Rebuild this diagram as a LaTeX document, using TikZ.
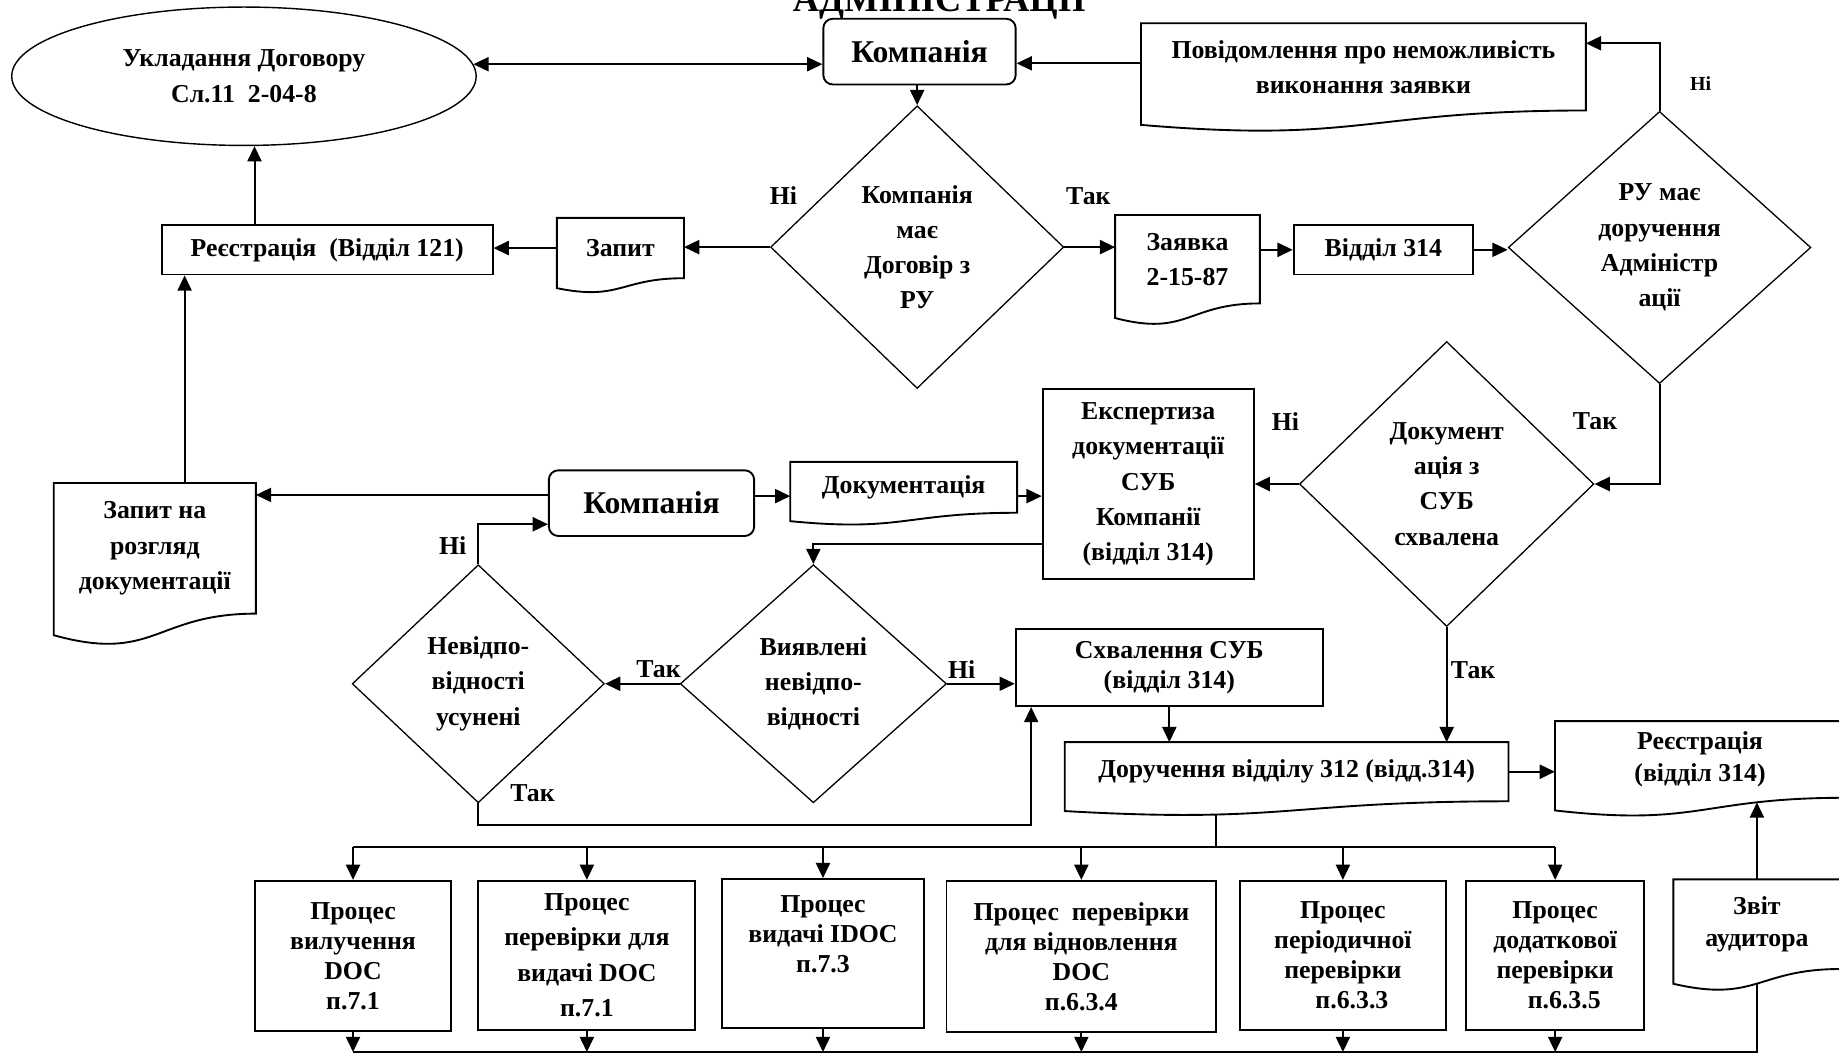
\documentclass[tikz,border=0pt]{standalone}
\usepackage{fontspec}
\setmainfont{Liberation Serif}
\usepackage{tikz}
\usetikzlibrary{calc}
\usetikzlibrary{shapes.geometric}
\usetikzlibrary{arrows.meta}
\newcommand{\createdoc}[1]{\draw[line width=1.6pt] (#1.north west) -- (#1.north east) -- (#1.south east) .. controls (#1.south) and ($(#1.south)!-0.38!(#1.north)$) .. ($(#1.south west)!-0.165!(#1.north west)$) -- cycle;}

\begin{document}
\begin{tikzpicture}[x=1pt, y=-1pt,
        every node/.style={font=\fontsize{22}{30}\selectfont\bfseries, align=center, inner sep=0pt},
        box/.style={draw, rectangle, line width=1.6pt},
        rbox/.style={draw, rectangle, rounded corners=8pt, line width=1.6pt, font=\fontsize{27}{30}\selectfont\bfseries},
        doc/.style={rectangle},
        dec/.style={draw, diamond, line width=1.1pt},
        arr/.style={line width=1.7pt, -{Triangle[length=13pt,width=12pt]}},
        darr/.style={line width=1.7pt, {Triangle[length=13pt,width=12pt]}-{Triangle[length=13pt,width=12pt]}},
        conn/.style={line width=1.7pt},
        small/.style={font=\fontsize{22}{25.5}\selectfont\bfseries}]
        \useasboundingbox (0,0) rectangle (1568,898);
        \clip (0,0) rectangle (1568,898);
        \node[anchor=base, font=\fontsize{31}{31}\selectfont\bfseries] (title) at (801,10) {АДМІНІСТРАЦІЇ};
    %top row
        \node[draw, ellipse, line width=1.2pt, minimum width=396pt, minimum height=118pt] (ell) at (208,65) {Укладання Договору\\Сл.11\ \ 2-04-8};
        \node[rbox, minimum width=164pt, minimum height=56pt] (comp1) at (784,44) {Компанія};
        \node[doc, minimum width=379pt, minimum height=74pt] (povid) at (1162.5,57) {Повідомлення про неможливість\\виконання заявки};
        \node[dec, minimum width=250pt, minimum height=241pt] (dec1) at (782,210.7) {Компанія\\має\\Договір з\\РУ};
        \node[doc, minimum width=108pt, minimum height=51pt] (zapyt) at (529,211.5) {Запит};
        \node[box, minimum width=282pt, minimum height=42pt] (reg1) at (279,213) {Реєстрація\ \ (Відділ 121)};
        \node[doc, minimum width=123pt, minimum height=75pt] (zayav) at (1012.5,221) {Заявка\\2-15-87};
        \node[box, minimum width=153pt, minimum height=42pt] (vid314) at (1179.5,213) {Відділ 314};
        \node[dec, minimum width=258pt, minimum height=232pt] (dec2) at (1415,211) {РУ має\\доручення\\Адміністр\\ації};
    %middle
        \node[dec, minimum width=251pt, minimum height=243pt] (dec3) at (1233.5,412.7) {Документ\\ація з\\СУБ\\схвалена};
        \node[box, minimum width=180pt, minimum height=162pt] (ekspert) at (979,413) {Експертиза\\документації\\СУБ\\Компанії\\(відділ 314)};
        \node[rbox, minimum width=175pt, minimum height=56pt] (comp2) at (555.5,429) {Компанія};
        \node[doc, minimum width=193pt, minimum height=43pt] (docum) at (770.5,415.5) {Документація};
        \node[doc, minimum width=172pt, minimum height=111pt] (zrozg) at (132,467.5) {Запит на\\розгляд\\документації};
        \node[dec, minimum width=227pt, minimum height=203pt] (dec4) at (693.5,583) {Виявлені\\невідпо-\\відності};
        \node[dec, minimum width=215pt, minimum height=203pt] (dec5) at (407.8,583) {Невідпо-\\відності\\усунені};
        \node[box, small, minimum width=262pt, minimum height=66pt] (shval) at (997,569) {Схвалення СУБ\\(відділ 314)};
        \node[doc, minimum width=378pt, minimum height=50pt] (doruch) at (1097,658) {Доручення відділу 312 (відд.314)};
        \node[doc, font=\fontsize{22}{27}\selectfont\bfseries, minimum width=247pt, minimum height=65pt] (reestr2) at (1449.5,647.5) {Реєстрація\\(відділ 314)};
        \node[doc, font=\fontsize{22}{27}\selectfont\bfseries, minimum width=142pt, minimum height=76pt] (zvit) at (1498,788) {Звіт\\аудитора};
    %processes
        \node[box, small, minimum width=167pt, minimum height=128pt] (p1) at (301,815) {Процес\\вилучення\\DOC\\п.7.1};
        \node[box, minimum width=185pt, minimum height=127pt] (p2) at (500.4,814.5) {Процес\\перевірки для\\видачі DOC\\п.7.1};
        \node[box, small, minimum width=172pt, minimum height=127pt] (p3) at (701.7,813) {Процес\\видачі IDOC\\п.7.3\\\strut};
        \node[box, small, minimum width=230pt, minimum height=129pt] (p4) at (922,815.5) {Процес\ \ перевірки\\для відновлення\\DOC\\п.6.3.4};
        \node[box, small, minimum width=176pt, minimum height=127pt] (p5) at (1145,814.5) {Процес\\періодичної\\перевірки\\\hspace*{0.7em}п.6.3.3};
        \node[box, small, minimum width=152pt, minimum height=127pt] (p6) at (1326,814.5) {Процес\\додаткової\\перевірки\\\hspace*{0.7em}п.6.3.5};
    %documents
        \foreach \d in {povid,zapyt,zayav,docum,zrozg,doruch,reestr2,zvit}
            \createdoc{\d}
    %connectors
        \coordinate (k1) at ([yshift=-10pt]comp1.east);
        \draw[darr] (ell.3.2) -- (ell.3.2 -| comp1.west);
        \draw[arr] (k1 -| povid.west) -- (k1);
        \draw[arr] (dec1.north |- comp1.south) -- (dec1.north);
        \draw[arr] (dec1.west) -- (dec1.west -| zapyt.east);
        \draw[arr] (zapyt.west) -- (zapyt.west -| reg1.east);
        \coordinate (r1) at ([xshift=-62pt]reg1.north);
        \draw[arr] (r1) -- (r1 |- ell.south);
        \draw[arr] (dec1.east) -- (dec1.east -| zayav.west);
        \draw[arr] (vid314.west -| zayav.east) -- (vid314.west);
        \draw[arr] (vid314.east) -- (vid314.east -| dec2.west);
        \draw[arr] (dec2.north) |- ($(povid.north east)!0.23!(povid.south east)$);
        \draw[arr] (dec2.south) |- (dec3.east);
        \draw[arr] (dec3.west) -- (dec3.west -| ekspert.east);
        \draw[arr] (dec3.south) -- (dec3.south |- doruch.north);
        \coordinate (k2) at ([yshift=7pt]comp2.west);
        \coordinate (k3) at ([yshift=6pt]comp2.east);
        \draw[arr] (k2) -- (k2 -| zrozg.east);
        \draw[arr] (k3) -- (k3 -| docum.west);
        \draw[arr] (k3 -| docum.east) -- (k3 -| ekspert.west);
        \draw[arr] ($(ekspert.south west)!0.19!(ekspert.north west)$) -| (dec4.north);
        \draw[arr] (dec4.west) -- (dec5.east);
        \draw[arr] (dec4.east) -- (dec4.east -| shval.west);
        \draw[arr] (dec5.north) |- ([yshift=-18pt]comp2.west);
        \coordinate (s1) at ([xshift=14pt]shval.south west);
        \draw[arr] (dec5.south) -- ++(0,18) -| (s1);
        \draw[arr] (shval.south) -- (shval.south |- doruch.north);
        \draw[arr] (doruch.east) -- (doruch.east -| reestr2.west);
        \coordinate (zr) at ([xshift=111.6pt]zrozg.north west);
        \draw[arr] (zr) -- (zr |- reg1.south);
    %buses
        \coordinate (dorB) at (1037,694);
        \coordinate (busT) at (1037,722);
        \coordinate (busB) at (1498,897);
        \coordinate (zvitB) at ($(zvit.south)!-0.163!(zvit.north)$);
        \coordinate (regB) at ($(reestr2.south)!-0.06!(reestr2.north)$);
        \draw[conn] (dorB) -- (busT);
        \draw[conn] (p1.north |- busT) -- (p6.north |- busT);
        \draw[conn] (zvitB) -- (busB) -- (busB -| p1.south);
        \foreach \p in {p1,p2,p3,p4,p5,p6} {
            \draw[arr] (\p.north |- busT) -- (\p.north);
            \draw[arr] (\p.south) -- (\p.south |- busB);}
        \draw[arr] (zvit.north) -- (zvit.north |- regB);
    %labels
        \node (l1) at (668,167) {Ні};
        \node (l2) at (928,167.5) {Так};
        \node[font=\fontsize{17}{20}\selectfont\bfseries] (l3) at (1450,71) {Ні};
        \node (l4) at (1096,359) {Ні};
        \node (l5) at (1360,359) {Так};
        \node (l6) at (1256,571) {Так};
        \node (l7) at (820,571) {Ні};
        \node (l8) at (561.5,570.5) {Так};
        \node (l9) at (386,465) {Ні};
        \node (l10) at (454,676.5) {Так};
\end{tikzpicture}
\end{document}
